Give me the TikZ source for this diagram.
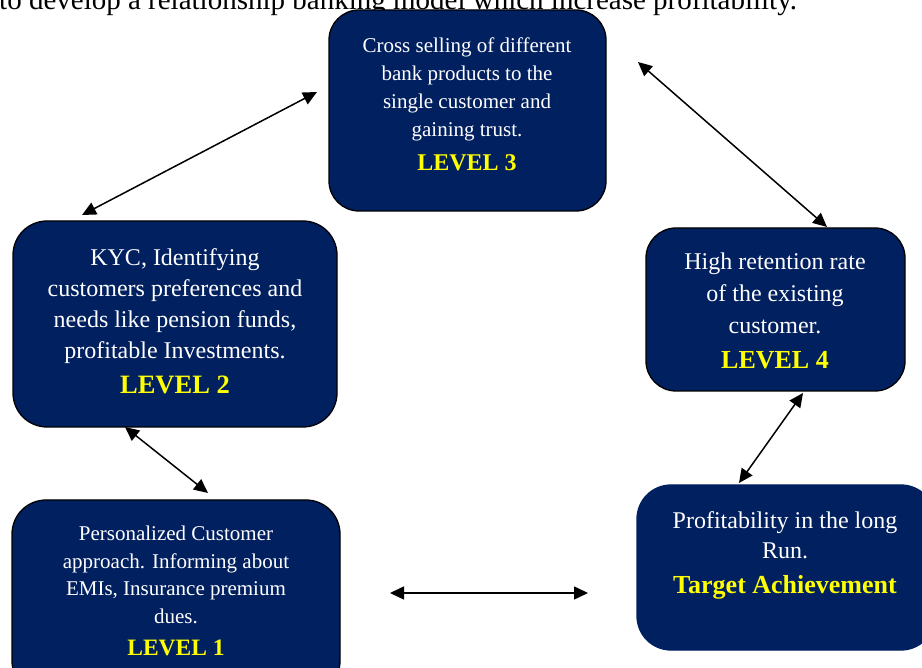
\documentclass[tikz,border=0pt]{standalone}
\usepackage{fontspec}
\setmainfont{Liberation Serif}
\usetikzlibrary{arrows.meta}
\definecolor{navy}{HTML}{002060}
\definecolor{lvl}{HTML}{FFFF00}
\tikzset{
  box/.style={draw=black, line width=1.3pt, fill=navy, rounded corners=30pt, inner sep=0pt},
  txt/.style={text=white, align=center, inner sep=0pt, anchor=north},
  arr/.style={{Triangle[length=14pt,width=13pt]}-{Triangle[length=14pt,width=13pt]}, line width=1.5pt, black}
}
\begin{document}
\begin{tikzpicture}[x=1pt,y=-1pt]
\useasboundingbox (0,0) rectangle (922,668);
\clip (0,0) rectangle (922,668);

% title line (cut at top, as in the reference)
\node[anchor=base west, inner sep=0pt, font=\fontsize{29}{34}\selectfont] (title) at (-1,9.5)
  {to develop a relationship banking model which increase profitability.};

% boxes
\node[box, minimum width=277pt, minimum height=201pt] (L3) at (467.5,110.5) {};
\node[box, minimum width=324pt, minimum height=206pt, rounded corners=34pt] (L2) at (175,324) {};
\node[box, minimum width=259pt, minimum height=163pt] (L4) at (775.5,309.5) {};
\node[box, minimum width=328pt, minimum height=195pt, rounded corners=34pt] (L1) at (176,597.5) {};
\node[box, draw=navy, minimum width=298pt, minimum height=165pt, rounded corners=34pt] (T) at (786,567.5) {};

% texts
\node[txt, font=\fontsize{21}{28}\selectfont] (t3) at (467,37.5)
  {Cross selling of different\\bank products to the\\single customer and\\gaining trust.\\[6pt]%
   {\fontsize{24}{28}\selectfont\bfseries\color{lvl}LEVEL 3}};
\node[txt, font=\fontsize{24}{31.3}\selectfont] (t2) at (175,248)
  {KYC, Identifying\\customers preferences and\\needs like pension funds,\\profitable Investments.\\[3.5pt]%
   {\fontsize{26.5}{31}\selectfont\bfseries\color{lvl}LEVEL 2}};
\node[txt, font=\fontsize{24}{32}\selectfont] (t4) at (775,252.6)
  {High retention rate\\of the existing\\customer.\\[3.5pt]%
   {\fontsize{26}{32}\selectfont\bfseries\color{lvl}LEVEL 4}};
\node[txt, font=\fontsize{21}{27.7}\selectfont] (t1) at (176,525.7)
  {Personalized Customer\\approach. Informing about\\EMIs, Insurance premium\\dues.\\[4pt]%
   {\fontsize{23.5}{28}\selectfont\bfseries\color{lvl}LEVEL 1}};
\node[txt, font=\fontsize{24}{30}\selectfont] (tT) at (785,511)
  {Profitability in the long\\Run.\\[5pt]%
   {\fontsize{26}{30}\selectfont\bfseries\color{lvl}Target Achievement}};

% connector end points
\coordinate (a1) at (82,215);
\coordinate (a2) at (317,92);
\coordinate (b1) at (638,62);
\coordinate (b2) at (827,227);
\coordinate (c1) at (125,427);
\coordinate (c2) at (208,493);
\coordinate (d1) at (803,393);
\coordinate (d2) at (739,483);
\coordinate (e1) at (390,593);
\coordinate (e2) at (588,593);

\draw[arr] (a1) -- (a2);
\draw[arr] (b1) -- (b2);
\draw[arr] (c1) -- (c2);
\draw[arr] (d1) -- (d2);
\draw[arr] (e1) -- (e2);
\end{tikzpicture}
\end{document}
